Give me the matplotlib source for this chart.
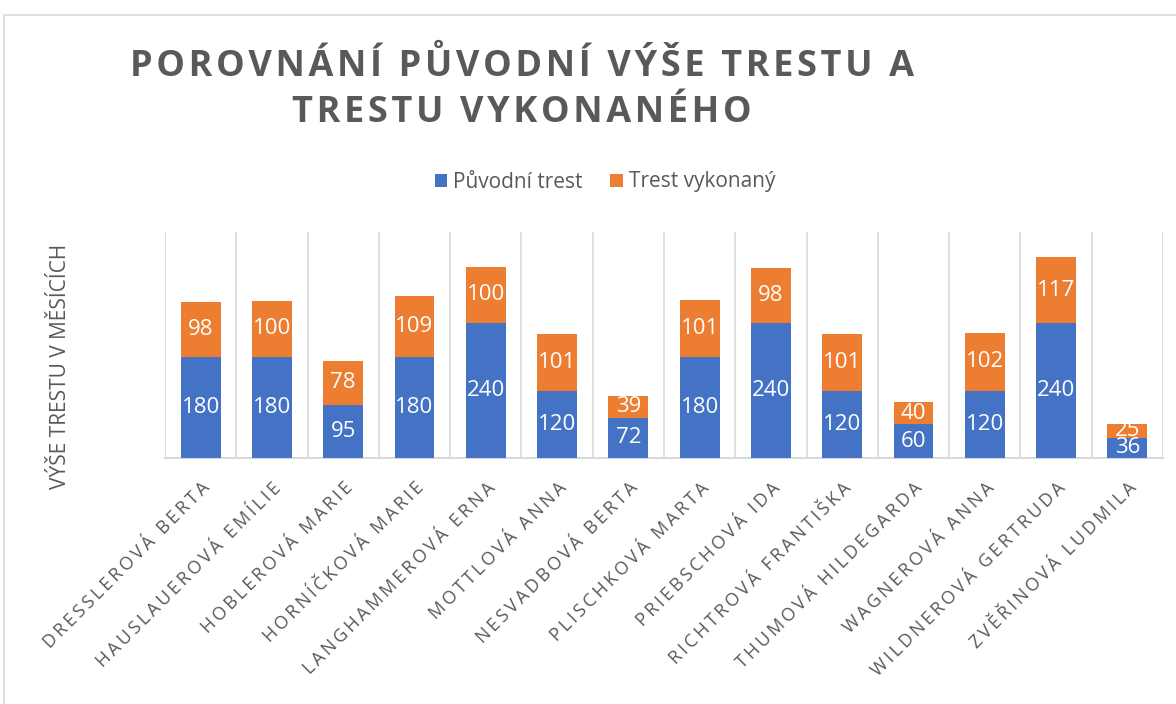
import matplotlib
matplotlib.use('agg')
import matplotlib.pyplot as plt
from matplotlib.patches import Rectangle
import numpy as np

names = ['Dresslerová Berta', 'Hauslauerová Emílie', 'Hoblerová Marie', 'Horníčková Marie',
         'Langhammerová Erna', 'Mottlová Anna', 'Nesvadbová Berta', 'Plischková Marta',
         'Priebschová Ida', 'Richtrová Františka', 'Thumová Hildegarda', 'Wagnerová Anna',
         'Wildnerová Gertruda', 'Zvěřinová Ludmila']
puvodni = [180, 180, 95, 180, 240, 120, 72, 180, 240, 120, 60, 120, 240, 36]
vykonany = [98, 100, 78, 109, 100, 101, 39, 101, 98, 101, 40, 102, 117, 25]

title = 'Porovnání původní výše trestu a\ntrestu vykonaného'
ylabel = 'Výše trestu v měsících'
series_names = ['Původní trest', 'Trest vykonaný']

blue = '#4472C4'
orange = '#ED7D31'
grey = '#595959'
grid = '#D9D9D9'
fam = ['Open Sans', 'DejaVu Sans']


def spaced(s, sep='\u200a'):
    # crude letter spacing
    return '\n'.join(sep.join(line) for line in s.split('\n'))


fig = plt.figure(figsize=(11.76, 7.04), dpi=100)
fig.patches.append(Rectangle((4 / 1176, -0.01), 1.0, (704 - 15) / 704 + 0.01,
                             transform=fig.transFigure, fill=False,
                             edgecolor=grid, lw=1.2))

ax = fig.add_axes([165 / 1176, (704 - 458) / 704, (1163 - 165) / 1176, (458 - 232) / 704])
x = np.arange(len(names))
b1 = ax.bar(x, puvodni, width=0.56, color=blue, label=series_names[0], zorder=3)
b2 = ax.bar(x, vykonany, width=0.56, bottom=puvodni, color=orange,
            label=series_names[1], zorder=3)
for bars in (b1, b2):
    ax.bar_label(bars, label_type='center', color='white', fontsize=16,
                 family=fam, zorder=4)

ax.set_xlim(-0.5, len(names) - 0.5)
ax.set_ylim(0, 402)
for xb in np.arange(-0.5, len(names), 1.0):
    ax.axvline(xb, color=grid, lw=1.2, zorder=1)
for s in ['top', 'right', 'left']:
    ax.spines[s].set_visible(False)
ax.spines['bottom'].set_color(grid)
ax.spines['bottom'].set_linewidth(1.5)
ax.set_yticks([])
ax.set_xticks(x)
ax.set_xticklabels([spaced(n.upper(), '\u2009') for n in names], rotation=45, ha='right',
                   rotation_mode='anchor', fontsize=13, color=grey, family=fam)
ax.tick_params(axis='x', length=0, pad=15)

fig.text(60 / 1176, 1 - 366 / 704, ylabel.upper(), rotation=90, ha='center', va='center',
         fontsize=15, color=grey, family=fam)

fig.text(522 / 1176, 1 - 90 / 704, spaced(title.upper()), ha='center', va='center',
         fontsize=26, fontweight='bold', color=grey, family=fam, linespacing=1.35)

fig.legend(loc='center', bbox_to_anchor=(605 / 1176, 1 - 182 / 704), ncol=2, frameon=False,
           prop={'family': fam, 'size': 15}, labelcolor=grey, handlelength=0.6,
           handleheight=0.6, handletextpad=0.3, columnspacing=1.3)

fig.savefig('out.png', dpi=100)
